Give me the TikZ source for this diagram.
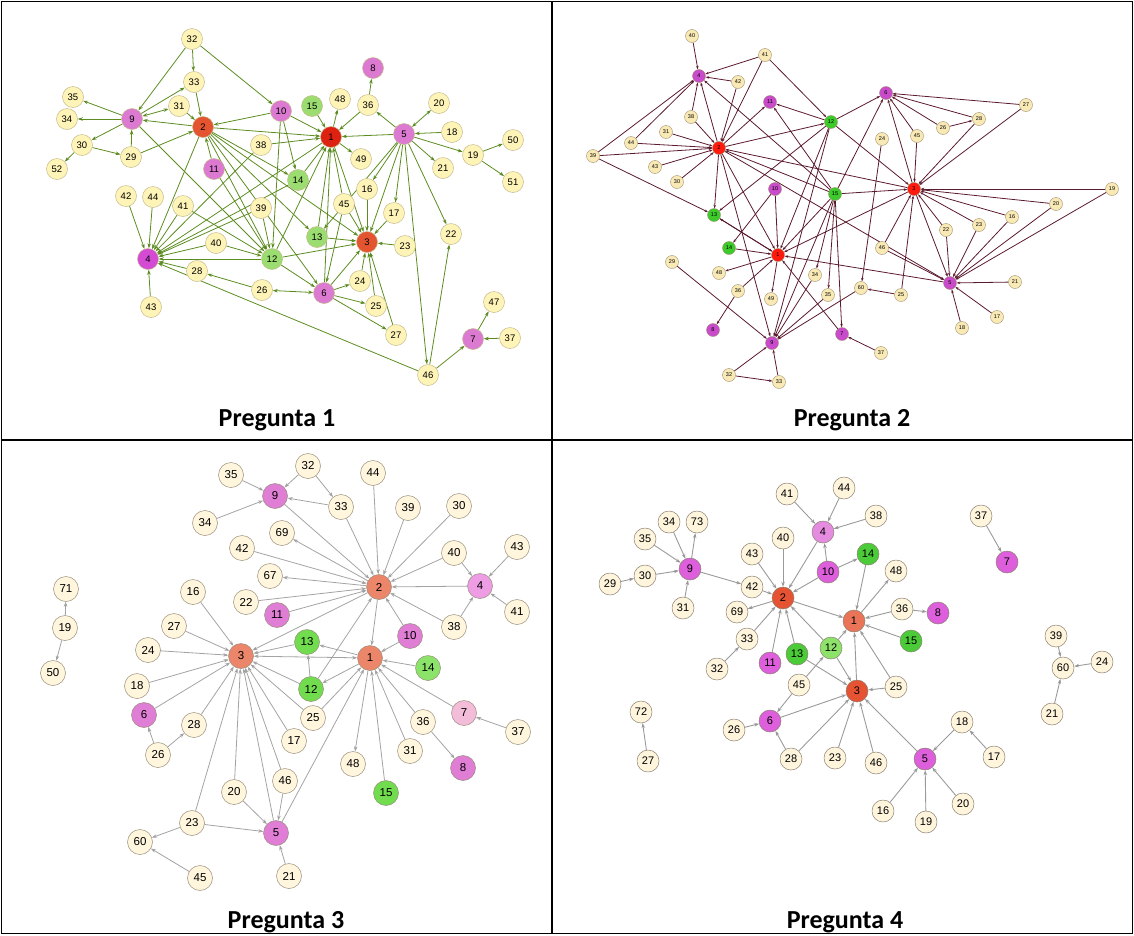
\documentclass[tikz,border=0pt]{standalone}
\usepackage{fontspec}
\setsansfont{Liberation Sans}
\newfontfamily\titlefont{Carlito}
\usetikzlibrary{arrows.meta,backgrounds}
\definecolor{YelA}{RGB}{255,244,184}
\definecolor{BdA}{RGB}{196,186,140}
\definecolor{RedA}{RGB}{228,84,48}
\definecolor{RedOneA}{RGB}{222,34,18}
\definecolor{PinkA}{RGB}{220,122,210}
\definecolor{MagA}{RGB}{212,74,212}
\definecolor{GreenA}{RGB}{155,221,112}
\definecolor{EdgeA}{RGB}{92,140,32}
\definecolor{YelB}{RGB}{248,233,181}
\definecolor{BdB}{RGB}{160,144,112}
\definecolor{RedB}{RGB}{255,26,13}
\definecolor{MagB}{RGB}{201,75,203}
\definecolor{GreenB}{RGB}{60,203,42}
\definecolor{EdgeB}{RGB}{91,26,46}
\definecolor{YelC}{RGB}{255,246,221}
\definecolor{BdC}{RGB}{150,140,122}
\definecolor{RedC}{RGB}{236,134,106}
\definecolor{PinkC}{RGB}{224,126,214}
\definecolor{PinkFourC}{RGB}{238,157,228}
\definecolor{PinkSevenC}{RGB}{243,188,217}
\definecolor{GreenC}{RGB}{112,220,78}
\definecolor{GreenLtC}{RGB}{139,227,106}
\definecolor{EdgeC}{RGB}{163,163,163}
\definecolor{YelD}{RGB}{255,245,221}
\definecolor{BdD}{RGB}{138,128,112}
\definecolor{RedD}{RGB}{230,83,51}
\definecolor{RedOneD}{RGB}{234,116,87}
\definecolor{MagD}{RGB}{221,95,219}
\definecolor{MagFourD}{RGB}{229,139,224}
\definecolor{GreenD}{RGB}{76,203,56}
\definecolor{GreenLtD}{RGB}{141,226,106}
\definecolor{EdgeD}{RGB}{154,154,154}
\tikzset{yA/.style={circle,draw=BdA,fill=YelA,line width=0.5pt,minimum size=21pt,inner sep=0pt,font=\sffamily\fontsize{9.5}{10}\selectfont},
rA/.style={yA,fill=RedA}, r1A/.style={yA,fill=RedOneA}, pA/.style={yA,fill=PinkA}, mA/.style={yA,fill=MagA}, gA/.style={yA,fill=GreenA},
yB/.style={circle,draw=BdB,fill=YelB,line width=0.4pt,minimum size=13pt,inner sep=0pt,font=\sffamily\fontsize{5.5}{6}\selectfont},
rB/.style={yB,fill=RedB}, mB/.style={yB,fill=MagB}, gB/.style={yB,fill=GreenB},
yC/.style={circle,draw=BdC,fill=YelC,line width=0.5pt,minimum size=25pt,inner sep=0pt,font=\sffamily\fontsize{11.5}{12}\selectfont},
rC/.style={yC,fill=RedC}, pC/.style={yC,fill=PinkC}, p4C/.style={yC,fill=PinkFourC}, p7C/.style={yC,fill=PinkSevenC}, gC/.style={yC,fill=GreenC}, g14C/.style={yC,fill=GreenLtC},
yD/.style={circle,draw=BdD,fill=YelD,line width=0.5pt,minimum size=22pt,inner sep=0pt,font=\sffamily\fontsize{11}{12}\selectfont},
rD/.style={yD,fill=RedD}, r1D/.style={yD,fill=RedOneD}, mD/.style={yD,fill=MagD}, m4D/.style={yD,fill=MagFourD}, gD/.style={yD,fill=GreenD}, g12D/.style={yD,fill=GreenLtD},
eA/.style={draw=EdgeA,line width=0.8pt,-{Stealth[length=5pt,width=3.5pt]}},
eA2/.style={eA,{Stealth[length=5pt,width=3.5pt]}-{Stealth[length=5pt,width=3.5pt]}},
eB/.style={draw=EdgeB,line width=0.8pt,-{Stealth[length=3.5pt,width=2.5pt]}},
eC/.style={draw=EdgeC,line width=0.8pt,-{Stealth[length=5pt,width=3.5pt]}},
eC2/.style={eC,{Stealth[length=5pt,width=3.5pt]}-{Stealth[length=5pt,width=3.5pt]}},
eD/.style={draw=EdgeD,line width=0.9pt,-{Stealth[length=5pt,width=3.5pt]}},
title/.style={font=\titlefont\bfseries\fontsize{26}{28}\selectfont,anchor=base}}

\begin{document}
\begin{tikzpicture}[x=1pt,y=-1pt]
\useasboundingbox (0,0) rectangle (1134,935);
% table frame
\draw[line width=1.5pt] (1.5,1.5) rectangle (1132.5,933.5);
\draw[line width=1.5pt] (552,1.5) -- (552,933.5);
\draw[line width=1.5pt] (1.5,440) -- (1132.5,440);
\node[title] (t1) at (277,426) {Pregunta 1};
\node[title] (t2) at (852,426) {Pregunta 2};
\node[title] (t3) at (286,928) {Pregunta 3};
\node[title] (t4) at (845,928) {Pregunta 4};

% Pregunta 1
\node[yA] (a32) at (192,39) {32};
\node[yA] (a33) at (194,82) {33};
\node[yA] (a35) at (73,97) {35};
\node[yA] (a34) at (67,119) {34};
\node[pA] (a9) at (132,119) {9};
\node[yA] (a31) at (179,106) {31};
\node[rA] (a2) at (203,127) {2};
\node[yA] (a30) at (82,145) {30};
\node[yA] (a29) at (131,157) {29};
\node[yA] (a52) at (57,169) {52};
\node[pA] (a10) at (281,111) {10};
\node[gA] (a15) at (312,106) {15};
\node[yA] (a48) at (340,99) {48};
\node[yA] (a36) at (368,105) {36};
\node[pA] (a8) at (373,68) {8};
\node[yA] (a20) at (439,103) {20};
\node[r1A] (a1) at (331,137) {1};
\node[pA] (a5) at (404,134) {5};
\node[yA] (a18) at (452,132) {18};
\node[yA] (a50) at (513,140) {50};
\node[yA] (a19) at (473,155) {19};
\node[yA] (a38) at (261,145) {38};
\node[yA] (a49) at (361,159) {49};
\node[yA] (a21) at (443,168) {21};
\node[pA] (a11) at (214,169) {11};
\node[gA] (a14) at (298,180) {14};
\node[yA] (a51) at (513,182) {51};
\node[yA] (a16) at (367,189) {16};
\node[yA] (a42) at (126,196) {42};
\node[yA] (a44) at (153,197) {44};
\node[yA] (a41) at (183,206) {41};
\node[yA] (a45) at (344,204) {45};
\node[yA] (a39) at (261,208) {39};
\node[yA] (a17) at (394,213) {17};
\node[yA] (a22) at (451,234) {22};
\node[gA] (a13) at (317,237) {13};
\node[rA] (a3) at (367,242) {3};
\node[yA] (a23) at (405,246) {23};
\node[yA] (a40) at (216,243) {40};
\node[mA] (a4) at (148,259) {4};
\node[gA] (a12) at (272,259) {12};
\node[yA] (a28) at (197,271) {28};
\node[yA] (a24) at (360,281) {24};
\node[yA] (a26) at (262,290) {26};
\node[pA] (a6) at (324,293) {6};
\node[yA] (a47) at (494,302) {47};
\node[yA] (a25) at (376,306) {25};
\node[yA] (a43) at (151,307) {43};
\node[yA] (a27) at (396,335) {27};
\node[pA] (a7) at (473,339) {7};
\node[yA] (a37) at (510,338) {37};
\node[yA] (a46) at (428,375) {46};

% Pregunta 2
\node[yB] (b40) at (692,36) {40};
\node[yB] (b41) at (765,55) {41};
\node[mB] (b4) at (699,76) {4};
\node[yB] (b42) at (738,82) {42};
\node[mB] (b6) at (886,93) {6};
\node[mB] (b11) at (770,102) {11};
\node[yB] (b27) at (1026,105) {27};
\node[yB] (b38) at (691,117) {38};
\node[yB] (b28) at (979,119) {28};
\node[gB] (b12) at (831,122) {12};
\node[yB] (b26) at (943,128) {26};
\node[yB] (b31) at (666,132) {31};
\node[yB] (b45) at (917,136) {45};
\node[yB] (b24) at (882,139) {24};
\node[yB] (b44) at (631,143) {44};
\node[rB] (b2) at (719,148) {2};
\node[yB] (b39) at (593,156) {39};
\node[yB] (b43) at (655,167) {43};
\node[yB] (b30) at (677,182) {30};
\node[mB] (b10) at (775,189) {10};
\node[rB] (b3) at (914,189) {3};
\node[yB] (b19) at (1112,189) {19};
\node[gB] (b15) at (835,194) {15};
\node[yB] (b20) at (1056,204) {20};
\node[gB] (b13) at (714,215) {13};
\node[yB] (b16) at (1012,217) {16};
\node[yB] (b23) at (979,225) {23};
\node[yB] (b22) at (946,230) {22};
\node[gB] (b14) at (729,248) {14};
\node[yB] (b46) at (882,248) {46};
\node[rB] (b1) at (778,255) {1};
\node[yB] (b29) at (672,262) {29};
\node[yB] (b48) at (719,273) {48};
\node[yB] (b34) at (815,275) {34};
\node[yB] (b21) at (1015,282) {21};
\node[mB] (b5) at (950,283) {5};
\node[yB] (b60) at (861,288) {60};
\node[yB] (b36) at (738,291) {36};
\node[yB] (b35) at (828,295) {35};
\node[yB] (b25) at (901,295) {25};
\node[yB] (b49) at (771,299) {49};
\node[yB] (b17) at (997,317) {17};
\node[yB] (b18) at (962,328) {18};
\node[mB] (b8) at (713,330) {8};
\node[mB] (b7) at (842,334) {7};
\node[mB] (b9) at (772,343) {9};
\node[yB] (b37) at (881,353) {37};
\node[yB] (b32) at (729,375) {32};
\node[yB] (b33) at (779,382) {33};

% Pregunta 3
\node[yC] (c35) at (231,475) {35};
\node[yC] (c32) at (308,466) {32};
\node[yC] (c44) at (373,473) {44};
\node[pC] (c9) at (275,496) {9};
\node[yC] (c33) at (341,507) {33};
\node[yC] (c39) at (408,508) {39};
\node[yC] (c30) at (459,506) {30};
\node[yC] (c34) at (205,523) {34};
\node[yC] (c69) at (282,533) {69};
\node[yC] (c42) at (242,548) {42};
\node[yC] (c40) at (454,553) {40};
\node[yC] (c43) at (517,547) {43};
\node[yC] (c67) at (270,576) {67};
\node[rC] (c2) at (379,587) {2};
\node[p4C] (c4) at (480,586) {4};
\node[yC] (c71) at (66,589) {71};
\node[yC] (c16) at (193,592) {16};
\node[yC] (c22) at (246,602) {22};
\node[pC] (c11) at (277,615) {11};
\node[yC] (c41) at (517,612) {41};
\node[yC] (c19) at (65,628) {19};
\node[yC] (c27) at (174,626) {27};
\node[yC] (c38) at (454,627) {38};
\node[pC] (c10) at (410,636) {10};
\node[gC] (c13) at (307,642) {13};
\node[yC] (c24) at (148,650) {24};
\node[rC] (c3) at (241,656) {3};
\node[rC] (c1) at (370,658) {1};
\node[g14C] (c14) at (428,668) {14};
\node[yC] (c50) at (53,673) {50};
\node[yC] (c18) at (137,686) {18};
\node[gC] (c12) at (311,689) {12};
\node[pC] (c6) at (144,715) {6};
\node[p7C] (c7) at (464,713) {7};
\node[yC] (c25) at (313,718) {25};
\node[yC] (c28) at (194,725) {28};
\node[yC] (c36) at (423,722) {36};
\node[yC] (c37) at (518,732) {37};
\node[yC] (c17) at (294,741) {17};
\node[yC] (c26) at (158,755) {26};
\node[yC] (c31) at (410,751) {31};
\node[yC] (c48) at (353,764) {48};
\node[pC] (c8) at (463,768) {8};
\node[yC] (c46) at (285,781) {46};
\node[yC] (c20) at (234,792) {20};
\node[gC] (c15) at (386,793) {15};
\node[yC] (c23) at (192,823) {23};
\node[pC] (c5) at (276,833) {5};
\node[yC] (c60) at (140,842) {60};
\node[yC] (c45) at (200,878) {45};
\node[yC] (c21) at (289,876) {21};

% Pregunta 4
\node[yD] (d44) at (844,488) {44};
\node[yD] (d41) at (787,494) {41};
\node[yD] (d38) at (876,516) {38};
\node[yD] (d37) at (981,516) {37};
\node[yD] (d34) at (669,522) {34};
\node[yD] (d73) at (697,522) {73};
\node[m4D] (d4) at (823,532) {4};
\node[yD] (d40) at (783,538) {40};
\node[yD] (d35) at (645,539) {35};
\node[gD] (d14) at (868,554) {14};
\node[yD] (d43) at (752,554) {43};
\node[mD] (d7) at (1007,562) {7};
\node[mD] (d9) at (690,569) {9};
\node[mD] (d10) at (828,572) {10};
\node[yD] (d48) at (896,571) {48};
\node[yD] (d30) at (645,576) {30};
\node[yD] (d29) at (610,584) {29};
\node[yD] (d42) at (752,587) {42};
\node[rD] (d2) at (783,598) {2};
\node[yD] (d31) at (683,608) {31};
\node[yD] (d69) at (737,612) {69};
\node[yD] (d36) at (902,609) {36};
\node[mD] (d8) at (938,613) {8};
\node[r1D] (d1) at (854,621) {1};
\node[gD] (d15) at (911,641) {15};
\node[yD] (d39) at (1056,636) {39};
\node[yD] (d33) at (747,639) {33};
\node[g12D] (d12) at (831,648) {12};
\node[gD] (d13) at (797,654) {13};
\node[mD] (d11) at (770,663) {11};
\node[yD] (d24) at (1102,662) {24};
\node[yD] (d60) at (1063,668) {60};
\node[yD] (d32) at (717,669) {32};
\node[yD] (d45) at (799,685) {45};
\node[yD] (d25) at (896,687) {25};
\node[rD] (d3) at (857,691) {3};
\node[yD] (d72) at (641,712) {72};
\node[yD] (d21) at (1052,714) {21};
\node[mD] (d6) at (770,721) {6};
\node[yD] (d18) at (962,722) {18};
\node[yD] (d26) at (734,730) {26};
\node[yD] (d28) at (791,759) {28};
\node[yD] (d23) at (835,758) {23};
\node[mD] (d5) at (925,759) {5};
\node[yD] (d17) at (994,757) {17};
\node[yD] (d27) at (648,761) {27};
\node[yD] (d46) at (876,763) {46};
\node[yD] (d16) at (883,811) {16};
\node[yD] (d20) at (963,804) {20};
\node[yD] (d19) at (926,822) {19};

\begin{scope}[on background layer]
% edges 1
\draw[eA] (a32) edge (a33) edge (a9) edge (a10);
\draw[eA] (a33) edge (a2);
\draw[eA] (a9) edge (a35) edge (a34) edge (a33) edge (a30) edge (a12);
\draw[eA2] (a31) edge (a9);
\draw[eA] (a31) edge (a2);
\draw[eA] (a2) edge (a9) edge (a1) edge (a4) edge (a12) edge (a6) edge (a3) edge (a13) edge (a14);
\draw[eA] (a11) edge (a2) edge (a12);
\draw[eA] (a29) edge (a9) edge (a2);
\draw[eA] (a30) edge (a52) edge (a29);
\draw[eA] (a10) edge (a2) edge (a1) edge (a14) edge (a12);
\draw[eA] (a38) edge (a1) edge (a4);
\draw[eA] (a15) edge (a1);
\draw[eA] (a1) edge (a48) edge (a49) edge (a4) edge (a3);
\draw[eA] (a36) edge (a1) edge (a8);
\draw[eA] (a5) edge (a36) edge (a1) edge (a19) edge (a21) edge (a22) edge (a16) edge (a17) edge (a3) edge (a46) edge (a13);
\draw[eA2] (a20) edge (a5);
\draw[eA] (a18) edge (a5);
\draw[eA] (a19) edge (a50) edge (a51);
\draw[eA] (a42) edge (a4);
\draw[eA] (a44) edge (a4);
\draw[eA] (a41) edge (a4) edge (a12);
\draw[eA] (a40) edge (a4) edge (a12);
\draw[eA] (a39) edge (a4) edge (a12);
\draw[eA] (a14) edge (a4) edge (a1);
\draw[eA] (a43) edge (a4);
\draw[eA] (a28) edge (a4);
\draw[eA] (a12) edge (a4) edge (a1) edge (a3) edge (a6);
\draw[eA] (a13) edge (a3) edge (a1);
\draw[eA] (a45) edge (a1) edge (a3) edge (a6);
\draw[eA] (a16) edge (a3);
\draw[eA] (a17) edge (a3);
\draw[eA] (a23) edge (a3);
\draw[eA] (a6) edge (a3) edge (a24) edge (a25) edge (a27) edge (a1);
\draw[eA] (a24) edge (a3);
\draw[eA] (a25) edge (a3);
\draw[eA] (a27) edge (a3);
\draw[eA] (a26) edge (a28);
\draw[eA2] (a26) edge (a6);
\draw[eA] (a46) edge (a4) edge (a22) edge (a7);
\draw[eA] (a37) edge (a7);
\draw[eA] (a7) edge (a47);
% edges 2
\draw[eB] (b40) edge (b4);
\draw[eB] (b41) edge (b4) edge (b2) edge (b12);
\draw[eB] (b42) edge (b4) edge (b2);
\draw[eB] (b38) edge (b4) edge (b2);
\draw[eB] (b44) edge (b4) edge (b2);
\draw[eB] (b39) edge (b4) edge (b2) edge (b13);
\draw[eB] (b31) edge (b2);
\draw[eB] (b43) edge (b2);
\draw[eB] (b30) edge (b2);
\draw[eB] (b2) edge (b11) edge (b12) edge (b13) edge (b1) edge (b9) edge (b5) edge (b4);
\draw[eB] (b12) edge (b11) edge (b6) edge (b3) edge (b1) edge (b9) edge (b13);
\draw[eB] (b15) edge (b11) edge (b4) edge (b6) edge (b3) edge (b1) edge (b9) edge (b34) edge (b35) edge (b7) edge (b2);
\draw[eB] (b10) edge (b1) edge (b14);
\draw[eB] (b14) edge (b1);
\draw[eB] (b13) edge (b1);
\draw[eB] (b1) edge (b13) edge (b48) edge (b49);
\draw[eB] (b3) edge (b2) edge (b6) edge (b1) edge (b5);
\draw[eB] (b24) edge (b60);
\draw[eB] (b45) edge (b6) edge (b3);
\draw[eB] (b26) edge (b6) edge (b28);
\draw[eB] (b28) edge (b6) edge (b3);
\draw[eB] (b27) edge (b6) edge (b3);
\draw[eB] (b19) edge (b3) edge (b5);
\draw[eB] (b20) edge (b3) edge (b5);
\draw[eB] (b16) edge (b3) edge (b5);
\draw[eB] (b22) edge (b3) edge (b5);
\draw[eB] (b23) edge (b3) edge (b5);
\draw[eB] (b46) edge (b3) edge (b5);
\draw[eB] (b21) edge (b5);
\draw[eB] (b17) edge (b5);
\draw[eB] (b18) edge (b5);
\draw[eB] (b5) edge (b1);
\draw[eB] (b60) edge (b9);
\draw[eB] (b25) edge (b60) edge (b3);
\draw[eB] (b7) edge (b1);
\draw[eB] (b36) edge (b1) edge (b8);
\draw[eB] (b29) edge (b9);
\draw[eB] (b32) edge (b9) edge (b33);
\draw[eB] (b33) edge (b9);
\draw[eB] (b34) edge (b9);
\draw[eB] (b35) edge (b9);
\draw[eB] (b37) edge (b7);
% edges 3
\draw[eC] (c35) edge (c9);
\draw[eC] (c32) edge (c9) edge (c33);
\draw[eC] (c33) edge (c9) edge (c2);
\draw[eC] (c34) edge (c9);
\draw[eC] (c9) edge (c2);
\draw[eC] (c44) edge (c2);
\draw[eC] (c39) edge (c2);
\draw[eC] (c30) edge (c2);
\draw[eC] (c2) edge (c69) edge (c67) edge (c3) edge (c1);
\draw[eC] (c42) edge (c2);
\draw[eC] (c40) edge (c2) edge (c4);
\draw[eC] (c43) edge (c4);
\draw[eC] (c41) edge (c4);
\draw[eC] (c38) edge (c4) edge (c2);
\draw[eC] (c4) edge (c2);
\draw[eC] (c22) edge (c2);
\draw[eC] (c11) edge (c2);
\draw[eC] (c10) edge (c2) edge (c1);
\draw[eC] (c16) edge (c3);
\draw[eC] (c27) edge (c3);
\draw[eC] (c24) edge (c3);
\draw[eC] (c18) edge (c3);
\draw[eC] (c13) edge (c3);
\draw[eC2] (c1) edge (c3);
\draw[eC] (c1) edge (c13) edge (c12) edge (c48);
\draw[eC] (c12) edge (c13) edge (c3) edge (c2);
\draw[eC] (c6) edge (c3);
\draw[eC] (c28) edge (c3);
\draw[eC] (c23) edge (c3) edge (c5) edge (c60);
\draw[eC] (c20) edge (c3) edge (c5);
\draw[eC] (c5) edge (c3) edge (c1);
\draw[eC] (c46) edge (c3) edge (c5);
\draw[eC] (c17) edge (c3);
\draw[eC] (c25) edge (c3) edge (c1);
\draw[eC] (c14) edge (c1);
\draw[eC] (c15) edge (c1);
\draw[eC] (c31) edge (c1);
\draw[eC] (c36) edge (c1) edge (c8);
\draw[eC] (c7) edge (c1);
\draw[eC] (c37) edge (c7);
\draw[eC] (c26) edge (c6) edge (c28);
\draw[eC] (c45) edge (c60);
\draw[eC] (c21) edge (c5);
\draw[eC] (c19) edge (c71) edge (c50);
% edges 4
\draw[eD] (d41) edge (d4);
\draw[eD] (d44) edge (d4);
\draw[eD] (d38) edge (d4);
\draw[eD] (d10) edge (d4) edge (d2) edge (d14);
\draw[eD] (d4) edge (d2);
\draw[eD] (d14) edge (d1);
\draw[eD] (d40) edge (d2);
\draw[eD] (d43) edge (d2);
\draw[eD] (d42) edge (d2);
\draw[eD] (d9) edge (d42) edge (d73);
\draw[eD] (d2) edge (d69) edge (d1);
\draw[eD] (d33) edge (d2);
\draw[eD] (d32) edge (d33);
\draw[eD] (d11) edge (d2);
\draw[eD] (d13) edge (d2) edge (d3);
\draw[eD] (d12) edge (d2) edge (d1) edge (d3);
\draw[eD] (d45) edge (d12) edge (d6);
\draw[eD] (d1) edge (d48);
\draw[eD] (d36) edge (d1) edge (d8);
\draw[eD] (d15) edge (d1);
\draw[eD] (d25) edge (d1) edge (d3);
\draw[eD] (d3) edge (d1);
\draw[eD] (d6) edge (d3);
\draw[eD] (d28) edge (d3) edge (d6);
\draw[eD] (d26) edge (d6);
\draw[eD] (d23) edge (d3);
\draw[eD] (d46) edge (d3);
\draw[eD] (d5) edge (d3);
\draw[eD] (d18) edge (d5);
\draw[eD] (d17) edge (d18);
\draw[eD] (d16) edge (d5);
\draw[eD] (d19) edge (d5);
\draw[eD] (d20) edge (d5);
\draw[eD] (d35) edge (d9);
\draw[eD] (d34) edge (d9);
\draw[eD] (d30) edge (d9);
\draw[eD] (d29) edge (d30);
\draw[eD] (d31) edge (d9);
\draw[eD] (d37) edge (d7);
\draw[eD] (d39) edge (d60);
\draw[eD] (d24) edge (d60);
\draw[eD] (d21) edge (d60);
\draw[eD] (d27) edge (d72);
\end{scope}
\end{tikzpicture}
\end{document}
